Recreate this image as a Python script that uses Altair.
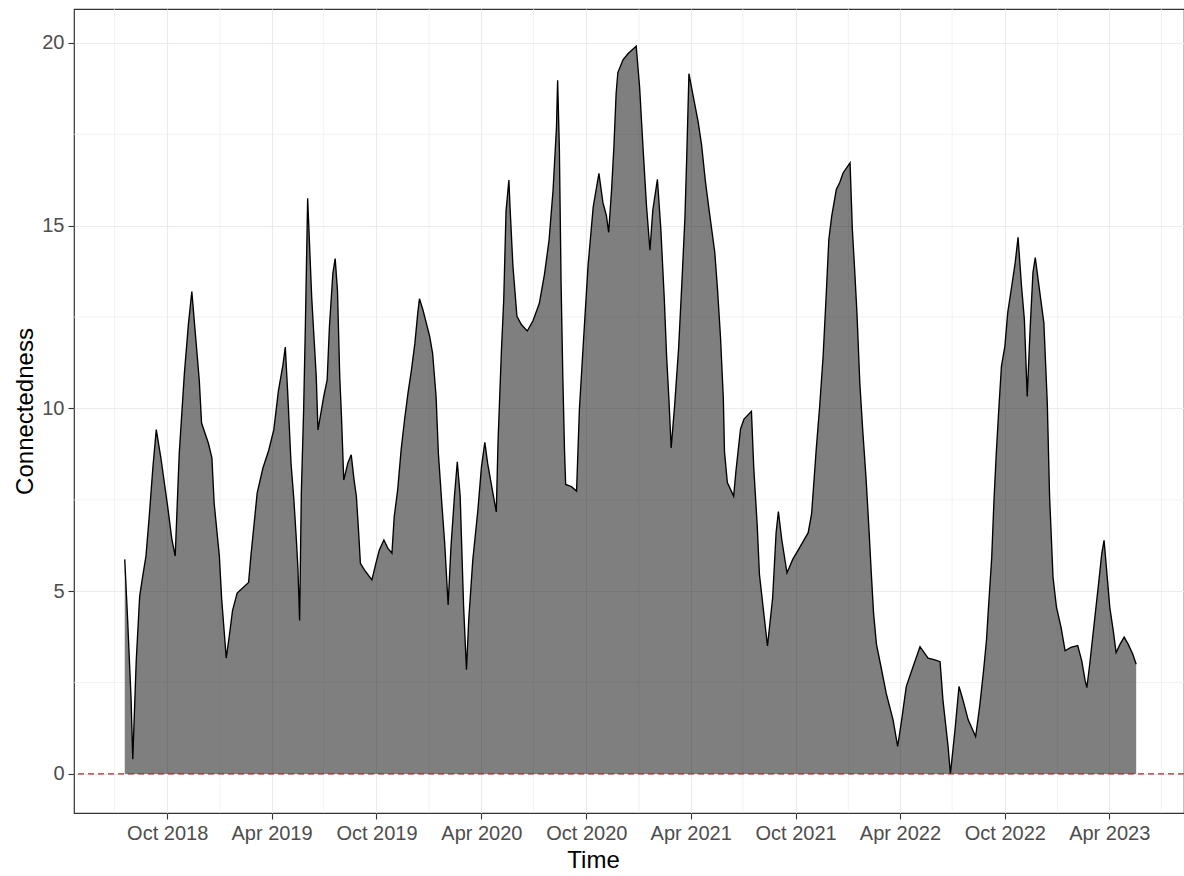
import altair as alt
import pandas as pd

# Total connectedness index over time
dates = [
    "2018-07-19", "2018-07-24", "2018-07-30", "2018-08-02", "2018-08-08", "2018-08-14",
    "2018-08-19", "2018-08-25", "2018-08-31", "2018-09-06", "2018-09-12", "2018-09-20",
    "2018-10-02", "2018-10-09", "2018-10-15", "2018-10-22", "2018-10-31", "2018-11-07",
    "2018-11-13", "2018-11-18", "2018-11-26", "2018-11-30", "2018-12-12", "2018-12-18",
    "2018-12-22", "2018-12-31", "2019-01-04", "2019-01-12", "2019-01-18", "2019-01-23",
    "2019-01-31", "2019-02-20", "2019-02-24", "2019-03-07", "2019-03-17", "2019-03-27",
    "2019-04-05", "2019-04-13", "2019-04-21", "2019-04-25", "2019-04-29", "2019-05-05",
    "2019-05-10", "2019-05-14", "2019-05-17", "2019-05-20", "2019-05-23", "2019-05-27",
    "2019-05-30", "2019-06-03", "2019-06-06", "2019-06-10", "2019-06-14", "2019-06-18",
    "2019-06-21", "2019-07-01", "2019-07-07", "2019-07-11", "2019-07-17", "2019-07-21",
    "2019-07-25", "2019-07-29", "2019-08-01", "2019-08-05", "2019-08-12", "2019-08-18",
    "2019-08-23", "2019-08-27", "2019-08-31", "2019-09-03", "2019-09-10", "2019-09-23",
    "2019-09-30", "2019-10-06", "2019-10-14", "2019-10-21", "2019-10-28", "2019-11-01",
    "2019-11-07", "2019-11-13", "2019-11-19", "2019-11-25", "2019-12-01", "2019-12-07",
    "2019-12-12", "2019-12-15", "2019-12-21", "2019-12-27", "2020-01-02", "2020-01-07",
    "2020-01-13", "2020-01-17", "2020-01-23", "2020-01-28", "2020-02-03", "2020-02-08",
    "2020-02-14", "2020-02-19", "2020-02-24", "2020-03-01", "2020-03-06", "2020-03-10",
    "2020-03-17", "2020-03-26", "2020-04-01", "2020-04-07", "2020-04-12", "2020-04-21",
    "2020-04-27", "2020-04-30", "2020-05-06", "2020-05-10", "2020-05-14", "2020-05-19",
    "2020-05-21", "2020-05-26", "2020-06-02", "2020-06-10", "2020-06-20", "2020-06-30",
    "2020-07-11", "2020-07-20", "2020-07-28", "2020-08-04", "2020-08-10", "2020-08-12",
    "2020-08-15", "2020-08-18", "2020-08-21", "2020-08-24", "2020-08-26", "2020-09-05",
    "2020-09-14", "2020-09-19", "2020-09-26", "2020-10-04", "2020-10-13", "2020-10-23",
    "2020-10-30", "2020-11-05", "2020-11-09", "2020-11-14", "2020-11-18", "2020-11-22",
    "2020-11-25", "2020-12-04", "2020-12-13", "2020-12-27", "2021-01-02", "2021-01-08",
    "2021-01-14", "2021-01-20", "2021-01-25", "2021-02-02", "2021-02-08", "2021-02-14",
    "2021-02-18", "2021-02-22", "2021-02-26", "2021-03-04", "2021-03-11", "2021-03-17",
    "2021-03-22", "2021-03-25", "2021-03-29", "2021-04-05", "2021-04-14", "2021-04-20",
    "2021-04-27", "2021-05-04", "2021-05-13", "2021-05-18", "2021-05-23", "2021-05-28",
    "2021-05-30", "2021-06-04", "2021-06-15", "2021-06-19", "2021-06-27", "2021-07-03",
    "2021-07-16", "2021-07-20", "2021-07-26", "2021-07-30", "2021-08-05", "2021-08-13",
    "2021-08-22", "2021-08-28", "2021-09-01", "2021-09-07", "2021-09-16", "2021-09-26",
    "2021-10-08", "2021-10-23", "2021-10-29", "2021-11-06", "2021-11-12", "2021-11-18",
    "2021-11-23", "2021-11-28", "2021-12-03", "2021-12-11", "2021-12-17", "2021-12-23",
    "2022-01-04", "2022-01-08", "2022-01-12", "2022-01-16", "2022-01-21", "2022-01-26",
    "2022-02-01", "2022-02-06", "2022-02-10", "2022-02-14", "2022-02-19", "2022-02-28",
    "2022-03-08", "2022-03-20", "2022-03-28", "2022-04-04", "2022-04-12", "2022-04-24",
    "2022-05-06", "2022-05-20", "2022-06-01", "2022-06-10", "2022-06-15", "2022-06-24",
    "2022-06-28", "2022-07-06", "2022-07-13", "2022-07-20", "2022-07-29", "2022-08-11",
    "2022-08-18", "2022-08-25", "2022-08-30", "2022-09-02", "2022-09-08", "2022-09-12",
    "2022-09-16", "2022-09-20", "2022-09-25", "2022-10-01", "2022-10-06", "2022-10-13",
    "2022-10-19", "2022-10-24", "2022-10-30", "2022-11-04", "2022-11-09", "2022-11-14",
    "2022-11-19", "2022-11-23", "2022-12-01", "2022-12-08", "2022-12-14", "2022-12-18",
    "2022-12-24", "2022-12-30", "2023-01-07", "2023-01-14", "2023-01-24", "2023-02-05",
    "2023-02-12", "2023-02-18", "2023-02-21", "2023-02-26", "2023-03-07", "2023-03-14",
    "2023-03-19", "2023-03-23", "2023-03-28", "2023-04-02", "2023-04-08", "2023-04-13",
    "2023-04-20", "2023-04-27", "2023-05-04", "2023-05-12", "2023-05-18",
]

connectedness = [
    5.87, 4.23, 2.07, 0.40, 3.08, 4.86,
    5.38, 5.96, 7.10, 8.37, 9.42, 8.65,
    7.30, 6.44, 5.96, 8.75, 10.96, 12.30,
    13.20, 12.26, 10.77, 9.60, 9.04, 8.65,
    7.40, 5.96, 4.80, 3.17, 3.85, 4.47,
    4.95, 5.24, 5.96, 7.69, 8.37, 8.85,
    9.42, 10.48, 11.20, 11.68, 10.50, 8.50,
    7.50, 6.49, 5.64, 4.20, 7.70, 9.96,
    12.24, 15.75, 14.60, 13.06, 11.96, 10.87,
    9.41, 10.32, 10.78, 12.24, 13.70, 14.10,
    13.24, 10.87, 9.78, 8.04, 8.50, 8.73,
    8.04, 7.59, 6.59, 5.76, 5.58, 5.31,
    5.76, 6.13, 6.40, 6.17, 6.04, 7.04,
    7.77, 8.86, 9.69, 10.42, 11.05, 11.78,
    12.60, 13.00, 12.70, 12.33, 11.96, 11.50,
    10.32, 8.77, 7.40, 6.31, 4.62, 6.22,
    7.59, 8.54, 7.60, 4.58, 2.85, 4.23,
    5.85, 7.23, 8.38, 9.07, 8.49, 7.69,
    7.17, 9.07, 11.60, 12.98, 15.40, 16.25,
    15.50, 13.90, 12.52, 12.29, 12.12, 12.40,
    12.87, 13.67, 14.60, 15.97, 17.70, 18.98,
    17.12, 13.44, 10.90, 8.84, 7.92, 7.86,
    7.74, 9.99, 11.83, 13.90, 15.51, 16.43,
    15.63, 15.28, 14.82, 15.97, 17.12, 18.62,
    19.19, 19.54, 19.71, 19.91, 18.79, 17.11,
    15.54, 14.33, 15.43, 16.27, 14.90, 13.01,
    11.44, 10.28, 8.92, 10.07, 11.65, 13.54,
    15.22, 16.80, 19.16, 18.58, 17.85, 17.22,
    16.17, 15.33, 14.28, 13.22, 11.96, 10.28,
    8.81, 7.97, 7.60, 8.29, 9.44, 9.71,
    9.92, 8.39, 6.82, 5.45, 4.61, 3.50,
    4.82, 6.60, 7.18, 6.40, 5.50, 5.87,
    6.19, 6.60, 7.13, 8.88, 10.06, 11.43,
    12.98, 14.63, 15.26, 15.99, 16.18, 16.45,
    16.72, 14.90, 13.80, 12.62, 10.70, 9.43,
    8.06, 6.69, 5.50, 4.40, 3.55, 2.85,
    2.21, 1.48, 0.75, 1.48, 2.39, 2.94,
    3.48, 3.17, 3.12, 3.07, 2.02, 0.75,
    0.00, 1.20, 2.39, 2.02, 1.48, 1.02,
    1.84, 2.85, 3.67, 4.45, 5.90, 7.49,
    8.77, 9.87, 11.15, 11.70, 12.62, 13.35,
    13.99, 14.68, 13.35, 12.44, 10.33, 12.16,
    13.72, 14.13, 13.17, 12.34, 10.15, 7.58,
    5.38, 4.56, 4.01, 3.37, 3.46, 3.51,
    3.10, 2.55, 2.36, 3.00, 4.29, 5.29,
    6.03, 6.39, 5.48, 4.56, 3.92, 3.32,
    3.55, 3.74, 3.55, 3.28, 3.00,
]

# Axis breaks: labelled (major) and unlabelled (minor) positions
major_x = [(2018, 10), (2019, 4), (2019, 10), (2020, 4), (2020, 10),
           (2021, 4), (2021, 10), (2022, 4), (2022, 10), (2023, 4)]
minor_x = ["2018-07-01", "2019-01-01", "2019-07-01", "2020-01-01", "2020-07-01",
           "2021-01-01", "2021-07-01", "2022-01-01", "2022-07-01", "2023-01-01",
           "2023-07-01"]
major_y = [0, 5, 10, 15, 20]
minor_y = [2.5, 7.5, 12.5, 17.5]
baseline = [0]

df = pd.DataFrame({"date": dates, "value": connectedness})

FONT = "Liberation Sans"

x_scale = alt.Scale(
    type="utc",
    domain=[alt.DateTime(year=2018, month=4, date=21, hours=12, utc=True),
            alt.DateTime(year=2023, month=8, date=9, hours=10, utc=True)],
    nice=False,
)
y_scale = alt.Scale(domain=[-1.07, 20.93], nice=False, zero=False)

# one shared definition per axis, repeated on every layer so they merge cleanly
x_axis = alt.Axis(
    values=[alt.DateTime(year=y, month=m, date=1, utc=True) for y, m in major_x],
    labelExpr="utcFormat(datum.value, '%b %Y')",
    title="Time",
    titleX=519, titleY=54, titleAlign="center", titleBaseline="alphabetic",
    labelPadding=4,
)
y_axis = alt.Axis(
    values=major_y, title="Connectedness",
    titleX=-42, titleY=402, titleAngle=270, titleAlign="center",
    titleBaseline="alphabetic", labelPadding=4,
)

X = dict(scale=x_scale, axis=x_axis)
Y = dict(scale=y_scale, axis=y_axis)

# minor grid lines
minor_v = alt.Chart(pd.DataFrame({"date": minor_x})).mark_rule(
    color="#EDEDED", strokeWidth=0.7
).encode(x=alt.X("date:T", **X))

minor_h = alt.Chart(pd.DataFrame({"value": minor_y})).mark_rule(
    color="#EDEDED", strokeWidth=0.7
).encode(y=alt.Y("value:Q", **Y))

area = alt.Chart(df).mark_area(
    color="black", opacity=0.5
).encode(
    x=alt.X("date:T", **X),
    y=alt.Y("value:Q", **Y),
)

line = alt.Chart(df).mark_line(color="black", strokeWidth=1.35).encode(
    x=alt.X("date:T", **X),
    y=alt.Y("value:Q", **Y),
)

zero_line = alt.Chart(pd.DataFrame({"value": baseline})).mark_rule(
    color="#B02828", strokeWidth=1.4, strokeDash=[6, 4]
).encode(y=alt.Y("value:Q", **Y))

chart = alt.layer(minor_v, minor_h, area, line, zero_line).properties(
    width=1110,
    height=804,
    autosize=alt.AutoSizeParams(type="none"),
    padding={"left": 74, "top": 9, "right": 0, "bottom": 63},
).configure(
    background="white",
).configure_view(
    stroke="#333333", strokeWidth=1.2,
).configure_axis(
    domain=False,
    grid=True,
    gridColor="#EBEBEB",
    gridWidth=1.1,
    tickColor="#333333",
    tickSize=6,
    tickWidth=1.1,
    labelFont=FONT,
    labelFontSize=20,
    labelColor="#4D4D4D",
    titleFont=FONT,
    titleFontSize=24,
    titleColor="black",
    titleFontWeight="normal",
)

chart.save("out.html", embed_options={"renderer": "svg", "actions": False})
